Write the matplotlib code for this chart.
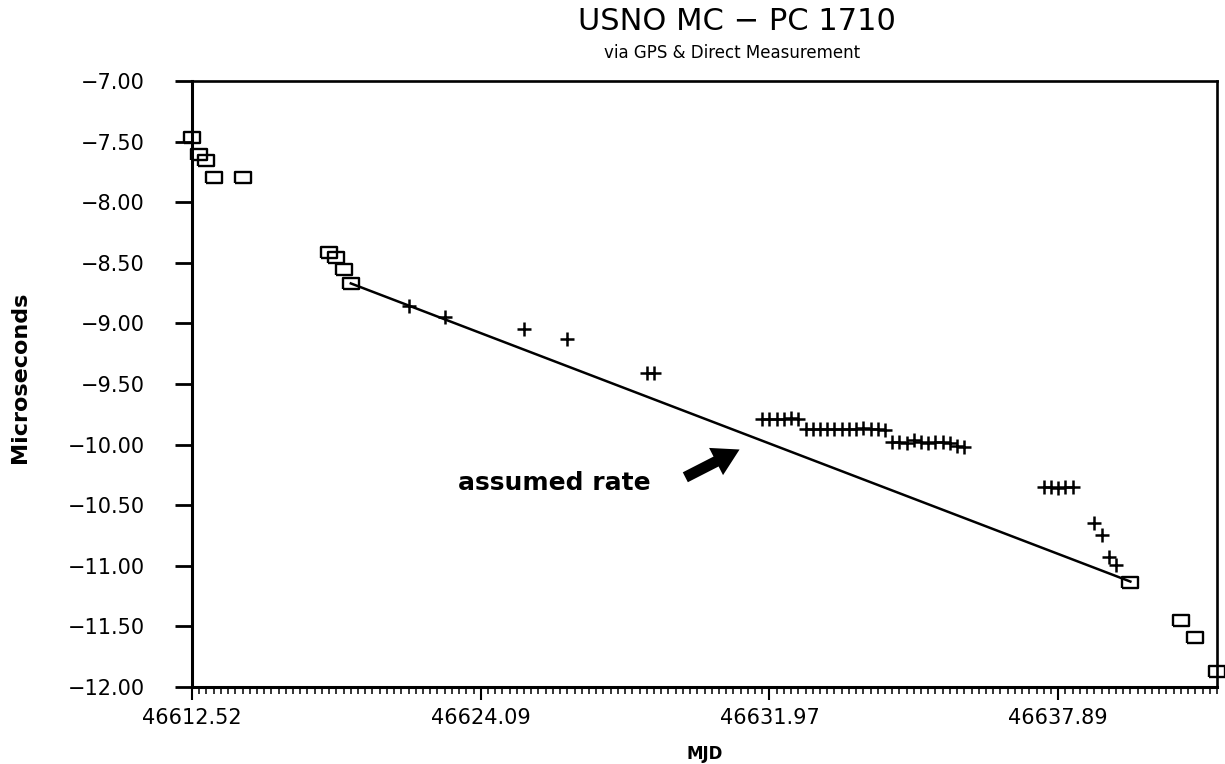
import numpy as np
import matplotlib.pyplot as plt
from matplotlib.ticker import MultipleLocator, FixedLocator
from matplotlib.patches import FancyArrowPatch

# x = sample number along the axis (axis is labelled with MJD at a few samples)
# squares: direct measurements
sq_x = [0, 1, 2, 3, 7, 19, 20, 21, 22, 130, 137, 139, 142]
sq_y = [-7.46, -7.60, -7.65, -7.79, -7.79, -8.41, -8.45, -8.55, -8.67,
        -11.13, -11.45, -11.59, -11.87]

# crosses: via GPS
gps_x = [30, 35, 46, 52, 63, 64,
         79, 80, 81, 82, 83, 84,
         85, 86, 87, 88, 89, 90, 91, 92, 93, 94, 95, 96,
         97, 98, 99, 100, 101, 102, 103, 104, 105, 106, 107,
         118, 119, 120, 121, 122,
         125, 126, 127, 128]
gps_y = [-8.86, -8.95, -9.05, -9.13, -9.41, -9.41,
         -9.79, -9.79, -9.79, -9.79, -9.78, -9.79,
         -9.87, -9.87, -9.87, -9.87, -9.87, -9.87, -9.87, -9.87, -9.86, -9.87, -9.87, -9.88,
         -9.98, -9.98, -9.99, -9.96, -9.98, -9.99, -9.98, -9.98, -9.99, -10.01, -10.02,
         -10.35, -10.35, -10.36, -10.35, -10.35,
         -10.65, -10.75, -10.93, -10.99]

# assumed rate line between two direct measurements
rate_x = [22, 130]
rate_y = [-8.67, -11.13]

mjd_pos = [0, 40, 80, 120]
mjd_labels = ['46612.52', '46624.09', '46631.97', '46637.89']
y_ticks = np.arange(-12.0, -6.99, 0.5)

fig = plt.figure(figsize=(12.25, 7.64), dpi=100)
ax = fig.add_axes([192/1225, 1-687/764, (1217-192)/1225, (687-81)/764])

ax.plot(rate_x, rate_y, color='black', lw=1.8, zorder=2)

rect = [(-1, -0.72), (1, -0.72), (1, 0.72), (-1, 0.72), (-1, -0.72)]
ax.plot(sq_x, sq_y, ls='none', marker=rect, ms=11, mfc='none', mec='black',
        mew=1.7, clip_on=False, zorder=3)
ax.plot(gps_x, gps_y, ls='none', marker='+', ms=10, mec='black', mew=1.8,
        clip_on=False, zorder=3)

ax.set_xlim(0, 142)
ax.set_ylim(-12, -7)

ax.xaxis.set_major_locator(FixedLocator(mjd_pos))
ax.set_xticklabels(mjd_labels, fontsize=15)
ax.xaxis.set_minor_locator(MultipleLocator(1))
ax.tick_params(axis='x', which='major', direction='out', length=9, width=1.5, pad=6)
ax.tick_params(axis='x', which='minor', direction='out', length=5, width=1.1)

ax.set_yticks(y_ticks)
ax.set_yticklabels([f'{v:.2f}'.replace('-', '\u2212') for v in y_ticks], fontsize=15)
ax.tick_params(axis='y', direction='out', length=12, width=2, pad=22)

for s in ['left', 'bottom']:
    ax.spines[s].set_linewidth(2.2)
for s in ['top', 'right']:
    ax.spines[s].set_linewidth(1.9)

# annotation
ax.text(50.2, -10.32, 'assumed rate', fontsize=18, fontweight='bold',
        ha='center', va='center')
arr = FancyArrowPatch((68.0, -10.28), (76.2, -10.03),
                      arrowstyle='simple,head_length=0.95,head_width=1.1,tail_width=0.4',
                      mutation_scale=20, color='black', lw=0)
ax.add_patch(arr)

fig.text(737/1225, 1-21/764, 'USNO MC \u2212 PC 1710', fontsize=22,
         ha='center', va='center')
fig.text(732/1225, 1-53/764, 'via GPS & Direct Measurement', fontsize=12,
         ha='center', va='center')
fig.text(20/1225, 1-377/764, 'Microseconds', fontsize=16, fontweight='bold',
         rotation=90, ha='center', va='center')
fig.text(705/1225, 1-754/764, 'MJD', fontsize=12, fontweight='bold',
         ha='center', va='center')

fig.savefig('out.png', dpi=100, facecolor='white')
